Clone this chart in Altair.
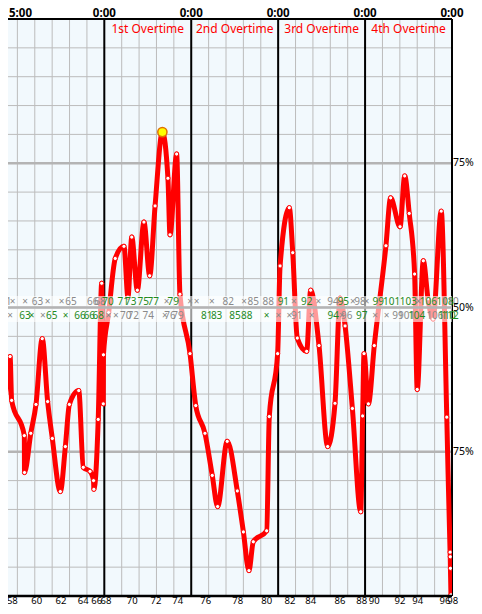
import altair as alt
import pandas as pd

# ---------------- data ----------------
# game minute (elapsed) of each play and win probability of the "top" team
play_minute = [41.77, 42.29, 42.58, 42.67, 43.40, 43.41, 43.77, 44.07, 44.43, 44.74,
               45.01, 45.47, 45.76, 45.99, 46.53, 46.79, 47.18, 47.38, 47.40, 47.65,
               47.85, 47.94, 47.95, 48.25, 48.63, 49.13, 49.36, 49.58, 49.90, 50.28,
               50.61, 50.92, 51.34, 51.66, 51.78, 52.16, 52.35, 52.93, 53.26, 53.79,
               54.21, 54.52, 55.07, 55.65, 56.00, 56.32, 56.57, 57.34, 57.49, 57.97,
               58.11, 58.64, 58.84, 59.10, 59.64, 59.87, 60.35, 60.85, 61.27, 61.56,
               61.85, 62.27, 62.75, 62.86, 62.94, 63.19, 63.53, 64.20, 64.47, 65.01,
               65.28, 65.54, 65.85, 66.00, 66.35, 66.62, 66.91, 67.38, 67.70, 67.89,
               67.90, 67.91, 67.94]
win_prob = [0.187, 0.339, 0.415, 0.339, 0.278, 0.214, 0.282, 0.332, 0.446, 0.337,
            0.273, 0.181, 0.259, 0.332, 0.356, 0.223, 0.216, 0.200, 0.185, 0.306,
            0.542, 0.333, 0.418, 0.491, 0.585, 0.606, 0.518, 0.622, 0.530, 0.648,
            0.555, 0.676, 0.804, 0.724, 0.626, 0.766, 0.523, 0.420, 0.330, 0.282,
            0.209, 0.155, 0.268, 0.182, 0.111, 0.044, 0.094, 0.113, 0.311, 0.420,
            0.572, 0.673, 0.595, 0.447, 0.424, 0.530, 0.434, 0.259, 0.334, 0.516,
            0.468, 0.325, 0.146, 0.312, 0.420, 0.333, 0.434, 0.607, 0.690, 0.640,
            0.728, 0.663, 0.558, 0.358, 0.581, 0.515, 0.480, 0.667, 0.310, 0.076,
            0.068, 0.048, 0.002]

# score / event strip for the top team (upper row) and bottom team (lower row)
top_row_minute = [42.33, 42.73, 43.44, 44.15, 44.74, 45.55, 46.08, 47.33, 47.75, 48.21,
                  49.09, 49.52, 50.24, 50.82, 51.59, 51.97, 52.93, 53.31, 54.18, 55.13,
                  56.04, 56.57, 57.43, 58.30, 58.91, 59.64, 60.31, 61.15, 61.75, 62.29,
                  62.71, 63.09, 63.76, 64.53, 65.49, 66.06, 66.64, 67.60, 67.89]
top_row_text = ["61", "×", "×", "63", "×", "×", "65", "66", "68", "70",
                "71", "73", "75", "77", "×", "79", "×", "×", "×", "82",
                "×", "85", "88", "91", "×", "92", "×", "94", "95", "×",
                "98", "×", "99", "101", "103", "×", "106", "108", "110"]
top_row_made = [0, 0, 0, 0, 0, 0, 0, 0, 0, 1,
                1, 1, 1, 1, 0, 1, 0, 0, 0, 0,
                0, 0, 0, 1, 0, 1, 0, 0, 1, 0,
                0, 0, 1, 1, 1, 0, 1, 1, 0]

bot_row_minute = [41.88, 42.58, 43.44, 43.82, 44.46, 44.97, 45.78, 46.60, 47.14, 47.65,
                  48.23, 48.67, 49.23, 49.67, 50.53, 51.49, 51.78, 52.24, 53.89, 54.46,
                  55.52, 56.19, 57.34, 58.01, 58.64, 59.07, 59.93, 61.17, 61.66, 61.94,
                  62.81, 63.57, 64.24, 64.89, 65.39, 65.97, 67.02, 67.70, 67.89]
bot_row_text = ["61", "×", "63", "×", "×", "65", "×", "66", "66", "68",
                "×", "×", "70", "72", "74", "×", "76", "79", "81", "83",
                "85", "88", "×", "×", "×", "91", "×", "94", "×", "96",
                "97", "×", "×", "99", "101", "104", "106", "110", "112"]
bot_row_made = [1, 0, 1, 1, 0, 1, 1, 1, 1, 1,
                0, 0, 0, 0, 0, 0, 0, 0, 1, 1,
                1, 1, 1, 0, 0, 0, 0, 1, 0, 0,
                1, 0, 0, 0, 0, 1, 0, 1, 1]

# bottom tick labels
tick_minute = [42.71, 44.11, 45.51, 46.79, 47.56, 48.10, 49.61, 50.97, 52.22, 53.83,
               55.67, 57.34, 58.68, 59.87, 61.56, 62.81, 63.53, 65.01, 66.03, 67.60, 68.04]
tick_label = ["58", "60", "62", "64", "66", "68", "70", "72", "74", "76",
              "78", "80", "82", "84", "86", "88", "90", "92", "94", "96", "98"]

# period markers
period_end_minute = [48, 53, 58, 63, 68]
first_clock_label = "5:00"
clock_minute = [48, 53, 58, 63, 68]
clock_label = ["0:00", "0:00", "0:00", "0:00", "0:00"]
ot_mid_minute = [50.5, 55.5, 60.5, 65.5]
ot_label = ["1st Overtime", "2nd Overtime", "3rd Overtime", "4th Overtime"]

grid_minute = list(range(42, 69))
grid_prob = [round(i * 0.05, 2) for i in range(1, 20)]
major_prob = [0.25, 0.5, 0.75]
major_label = ["75%", "50%", "75%"]

# ---------------- chart ----------------
W, H = 444, 577
FONT = "Noto Sans"
xs = alt.Scale(domain=[42.46, 68.0], nice=False, zero=False)
ys = alt.Scale(domain=[0, 1], nice=False, zero=False)
X = lambda f: alt.X(f, type="quantitative", scale=xs, axis=None)
Y = lambda f: alt.Y(f, type="quantitative", scale=ys, axis=None)

line_df = pd.DataFrame({"t": play_minute, "p": win_prob})
imax = max(range(len(win_prob)), key=lambda i: win_prob[i])
max_df = pd.DataFrame({"t": [play_minute[imax]], "p": [win_prob[imax]]})

vgrid = alt.Chart(pd.DataFrame({"t": grid_minute})).mark_rule(
    color="#bcbcbc", strokeWidth=1, clip=True).encode(x=X("t"))
hgrid = alt.Chart(pd.DataFrame({"p": grid_prob})).mark_rule(
    color="#bcbcbc", strokeWidth=1).encode(y=Y("p"))
hmajor = alt.Chart(pd.DataFrame({"p": major_prob})).mark_rule(
    color="#b4b4b4", strokeWidth=2.5).encode(y=Y("p"))
periods = alt.Chart(pd.DataFrame({"t": period_end_minute})).mark_rule(
    color="black", strokeWidth=2).encode(x=X("t"))

line = alt.Chart(line_df).mark_line(
    color="#ff0000", strokeWidth=5, interpolate="monotone", clip=True
).encode(x=X("t"), y=Y("p"))
pts = alt.Chart(line_df).mark_point(
    shape="circle", filled=True, fill="white", stroke="#ff0000", strokeWidth=1,
    size=18, opacity=1, clip=True
).encode(x=X("t"), y=Y("p"))
maxpt = alt.Chart(max_df).mark_point(
    shape="circle", filled=True, fill="#ffff00", stroke="#e07000", strokeWidth=1.5,
    size=85, opacity=1
).encode(x=X("t"), y=Y("p"))

band = alt.Chart(pd.DataFrame({"a": [0]})).mark_rect(color="white", opacity=0.6).encode(
    x=alt.value(0), x2=alt.value(W), y=alt.value(277), y2=alt.value(303))
mid_rule = alt.Chart(pd.DataFrame({"p": [0.5]})).mark_rule(
    color="#b4b4b4", strokeWidth=2.5).encode(y=Y("p"))

made_scale = alt.Scale(domain=[0, 1], range=["#8a8a8a", "#1f8a1f"])
top_df = pd.DataFrame({"t": top_row_minute, "s": top_row_text, "m": top_row_made})
bot_df = pd.DataFrame({"t": bot_row_minute, "s": bot_row_text, "m": bot_row_made})
top_txt = alt.Chart(top_df).mark_text(font=FONT, fontSize=10, baseline="middle").encode(
    x=X("t"), y=alt.value(283), text="s:N",
    color=alt.Color("m:O", scale=made_scale, legend=None))
bot_txt = alt.Chart(bot_df).mark_text(font=FONT, fontSize=10, baseline="middle").encode(
    x=X("t"), y=alt.value(297), text="s:N",
    color=alt.Color("m:O", scale=made_scale, legend=None))

top_border = alt.Chart(pd.DataFrame({"p": [1.0]})).mark_rule(
    color="black", strokeWidth=2).encode(y=Y("p"))
bot_border = alt.Chart(pd.DataFrame({"p": [0.0]})).mark_rule(
    color="black", strokeWidth=2.5).encode(y=Y("p"))

first_clock = alt.Chart(pd.DataFrame({"s": [first_clock_label]})).mark_text(
    font=FONT, fontSize=11.5, fontWeight="bold", color="black", baseline="middle", align="left"
).encode(x=alt.value(1), y=alt.value(-5), text="s:N")
clock_txt = alt.Chart(pd.DataFrame({"t": clock_minute, "s": clock_label})).mark_text(
    font=FONT, fontSize=11.5, fontWeight="bold", color="black", baseline="middle"
).encode(x=X("t"), y=alt.value(-5), text="s:N")
ot_txt = alt.Chart(pd.DataFrame({"t": ot_mid_minute, "s": ot_label})).mark_text(
    font=FONT, fontSize=12, color="#ff0000", baseline="middle"
).encode(x=X("t"), y=alt.value(10), text="s:N")
pct_txt = alt.Chart(pd.DataFrame({"p": major_prob, "s": major_label})).mark_text(
    font=FONT, fontSize=10.5, color="black", align="left", baseline="middle", dx=1
).encode(x=alt.value(W), y=Y("p"), text="s:N")
tick_txt = alt.Chart(pd.DataFrame({"t": tick_minute, "s": tick_label})).mark_text(
    font=FONT, fontSize=9.5, color="black", baseline="alphabetic"
).encode(x=X("t"), y=alt.value(H + 8), text="s:N")

chart = alt.layer(
    vgrid, hgrid, hmajor, periods, line, pts, maxpt, band, mid_rule,
    top_txt, bot_txt, top_border, bot_border, first_clock, clock_txt, ot_txt,
    pct_txt, tick_txt
).properties(
    width=W, height=H,
    autosize=alt.AutoSizeParams(type="none"),
    padding={"left": 0, "top": 11, "right": 22, "bottom": 10},
).configure_view(fill="#f2f9fd", stroke=None)

chart.save("out.html", embed_options={"renderer": "svg", "actions": False})
